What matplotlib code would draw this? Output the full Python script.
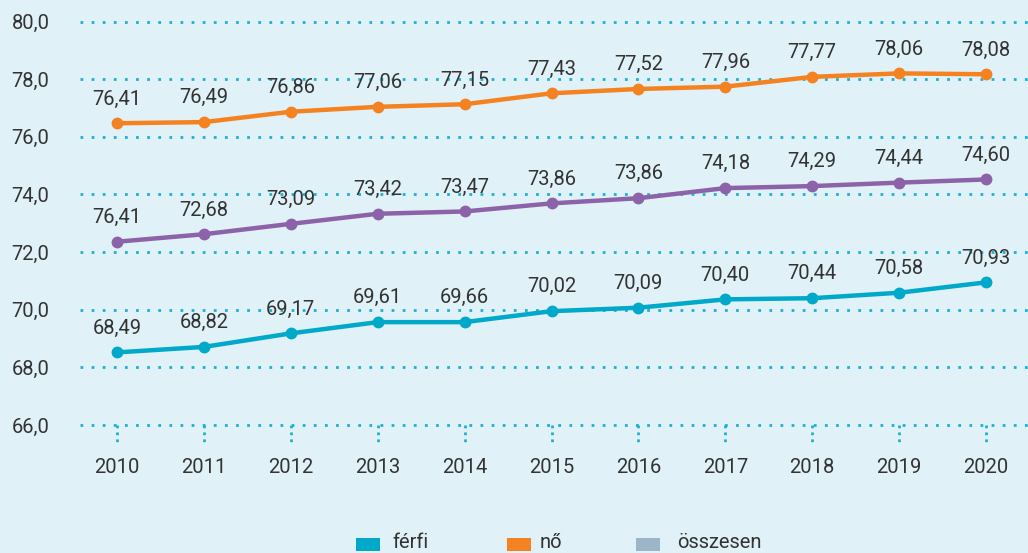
import numpy as np
import matplotlib
matplotlib.use("Agg")
import matplotlib.pyplot as plt
from matplotlib.patches import Rectangle

# Data (point heights as drawn in the source chart)
years = [2010, 2011, 2012, 2013, 2014, 2015, 2016, 2017, 2018, 2019, 2020]
no_vals = [76.47, 76.51, 76.87, 77.04, 77.13, 77.51, 77.66, 77.74, 78.08, 78.20, 78.17]
osszesen_vals = [72.36, 72.62, 72.98, 73.33, 73.41, 73.69, 73.87, 74.22, 74.29, 74.41, 74.52]
ferfi_vals = [68.52, 68.71, 69.18, 69.57, 69.57, 69.95, 70.07, 70.36, 70.40, 70.59, 70.95]
# the printed labels (the first one of the middle series reads 76,41 in the source)
no_labels = ["76,41", "76,49", "76,86", "77,06", "77,15", "77,43", "77,52", "77,96", "77,77", "78,06", "78,08"]
osszesen_labels = ["76,41", "72,68", "73,09", "73,42", "73,47", "73,86", "73,86", "74,18", "74,29", "74,44", "74,60"]
ferfi_labels = ["68,49", "68,82", "69,17", "69,61", "69,66", "70,02", "70,09", "70,40", "70,44", "70,58", "70,93"]
y_ticks = [66, 68, 70, 72, 74, 76, 78, 80]
legend_names = ["férfi", "nő", "összesen"]

# Styles
BG = "#e0f1f7"
C_NO = "#f58220"
C_OSSZ = "#8c62a9"
C_FERFI = "#00a8c9"
C_LEG_OSSZ = "#9db6c7"
GRID = "#1db0d1"
TXT = "#333333"

plt.rcParams["font.family"] = ["Roboto", "DejaVu Sans"]
FS = 14.5

fig = plt.figure(figsize=(10.28, 5.53), dpi=100, facecolor=BG)
ax = fig.add_axes([80 / 1028, 0.2262, 948 / 1028, 0.9663 - 0.2262])
ax.set_facecolor(BG)

# Grid lines (dotted)
for t in y_ticks:
    ax.axhline(t, color=GRID, linestyle=(0, (1, 3)), linewidth=2, zorder=1)

# Dotted tick marks under the axis
for yr in years:
    ax.plot([yr, yr], [66, 65.4], color=GRID, linestyle=(0, (1, 1.5)), linewidth=2,
            clip_on=False, zorder=1)

series = [(no_vals, no_labels, C_NO),
          (osszesen_vals, osszesen_labels, C_OSSZ),
          (ferfi_vals, ferfi_labels, C_FERFI)]
for vals, labs, col in series:
    ax.plot(years, vals, color=col, linewidth=3.2, marker="o", markersize=7.5, zorder=3,
            solid_capstyle="round")
    for x, v, s in zip(years, vals, labs):
        ax.annotate(s, (x, v), xytext=(0, 17.5), textcoords="offset points",
                    ha="center", va="center", fontsize=FS, color=TXT)

ax.set_xlim(2009.574, 2020.483)
ax.set_ylim(65.9, 80.1)
ax.set_yticks(y_ticks)
ax.set_yticklabels([f"{t:.1f}".replace(".", ",") for t in y_ticks])
ax.set_xticks(years)
ax.set_xticklabels([str(y) for y in years])
ax.tick_params(axis="y", length=0, pad=22, labelsize=FS, labelcolor=TXT)
ax.tick_params(axis="x", length=0, pad=21.5, labelsize=FS, labelcolor=TXT)
for sp in ax.spines.values():
    sp.set_visible(False)

# Legend at the bottom
leg_x = [356, 507, 636]
txt_x = [392, 540, 677]
leg_cols = [C_FERFI, C_NO, C_LEG_OSSZ]
for lx, tx, col, name in zip(leg_x, txt_x, leg_cols, legend_names):
    fig.patches.append(Rectangle((lx / 1028, (553 - 551) / 553), 24 / 1028, 13 / 553,
                                 transform=fig.transFigure, facecolor=col, edgecolor="none"))
    fig.text(tx / 1028, (553 - 543) / 553, name, ha="left", va="center",
             fontsize=FS, color=TXT)

fig.savefig("out.png", dpi=100, facecolor=BG)
